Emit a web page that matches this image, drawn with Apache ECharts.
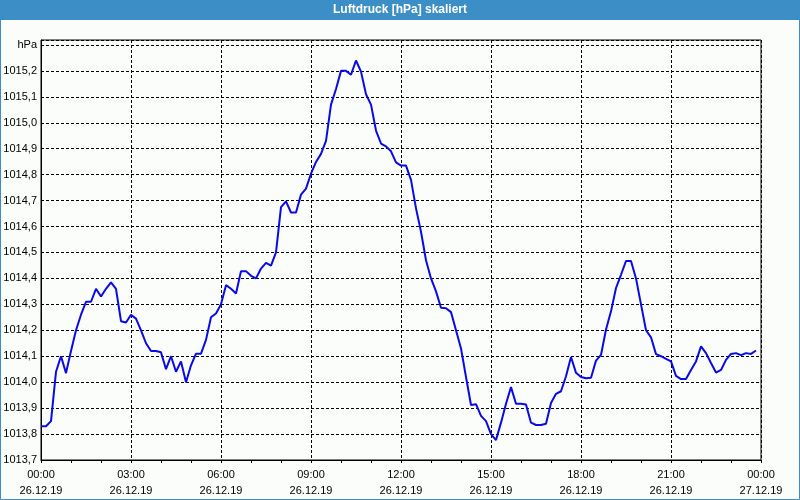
<!DOCTYPE html>
<html>
<head>
<meta charset="utf-8">
<style>
html,body{margin:0;padding:0;background:#fbfdfb;}
#main{width:800px;height:500px;}
</style>
<script src="https://cdn.jsdelivr.net/npm/echarts@6/dist/echarts.min.js"></script>
</head>
<body>
<div id="main"></div>
<script>
// Luftdruck, 10-minute values from 26.12.19 00:00 to 23:50
var stepMinutes = 10;
var startDate = '26.12.19';
var endDate = '27.12.19';
var pressure = [
  1013.83, 1013.83, 1013.85, 1014.04, 1014.10, 1014.035, 1014.12, 1014.20, 1014.26, 1014.31,
  1014.31, 1014.36, 1014.33, 1014.36, 1014.385, 1014.36, 1014.235, 1014.23, 1014.26, 1014.245,
  1014.20, 1014.15, 1014.12, 1014.12, 1014.115, 1014.05, 1014.10, 1014.04, 1014.08, 1014.00,
  1014.065, 1014.11, 1014.11, 1014.163, 1014.25, 1014.265, 1014.30, 1014.374, 1014.36, 1014.342,
  1014.428, 1014.428, 1014.41, 1014.40, 1014.438, 1014.46, 1014.449, 1014.50, 1014.675, 1014.697,
  1014.654, 1014.654, 1014.723, 1014.746, 1014.804, 1014.849, 1014.88, 1014.93, 1015.07, 1015.13,
  1015.20, 1015.20, 1015.185, 1015.24, 1015.197, 1015.11, 1015.07, 1014.97, 1014.92, 1014.909,
  1014.89, 1014.847, 1014.835, 1014.835, 1014.78, 1014.67, 1014.58, 1014.47, 1014.40, 1014.35,
  1014.287, 1014.285, 1014.27, 1014.20, 1014.13, 1014.02, 1013.912, 1013.915, 1013.87, 1013.85,
  1013.80, 1013.777, 1013.844, 1013.917, 1013.981, 1013.917, 1013.917, 1013.914, 1013.844, 1013.835,
  1013.835, 1013.84, 1013.92, 1013.955, 1013.965, 1014.023, 1014.097, 1014.036, 1014.02, 1014.015,
  1014.017, 1014.083, 1014.105, 1014.203, 1014.273, 1014.363, 1014.414, 1014.467, 1014.467, 1014.40,
  1014.30, 1014.20, 1014.173, 1014.108, 1014.10, 1014.09, 1014.08, 1014.024, 1014.012, 1014.012,
  1014.047, 1014.08, 1014.138, 1014.112, 1014.074, 1014.037, 1014.047, 1014.086, 1014.109, 1014.112,
  1014.104, 1014.112, 1014.109, 1014.122
];
var yMin = 1013.7;
var yTop = 1015.3;   // labelled "hPa"
var yMax = 1015.319;
var yStep = 0.1;
var xTickLabels = ['00:00','03:00','06:00','09:00','12:00','15:00','18:00','21:00','00:00'];

var seriesData = pressure.map(function (v, i) { return [i * stepMinutes, v]; });

var chart = echarts.init(document.getElementById('main'), null, {renderer: 'canvas'});
var font = 'Liberation Sans';
chart.setOption({
  animation: false,
  backgroundColor: '#fbfdfb',
  graphic: [
    {type: 'rect', shape: {x: 0, y: 0, width: 800, height: 20}, style: {fill: '#3c8fc6'}, z: 10},
    {type: 'rect', shape: {x: 0.5, y: 0.5, width: 799, height: 499}, style: {fill: null, stroke: '#3c8fc6', lineWidth: 1}, z: 10},
    {type: 'text', left: 'center', top: 4, z: 11,
     style: {text: 'Luftdruck [hPa] skaliert', fill: '#ffffff', font: 'bold 12px ' + font}}
  ],
  grid: {left: 41, right: 39, top: 40, bottom: 40, show: true, borderColor: '#000', borderWidth: 1, backgroundColor: 'transparent'},
  xAxis: {
    type: 'value', min: 0, max: 1440, interval: 180,
    axisLine: {show: true, lineStyle: {color: '#000', width: 1}},
    axisTick: {show: true, length: 3, inside: false, lineStyle: {color: '#000'}},
    minorTick: {show: true, splitNumber: 3, length: 3, lineStyle: {color: '#000'}},
    splitLine: {show: true, lineStyle: {color: '#000', type: [3, 2], width: 1}},
    axisLabel: {
      margin: 7, color: '#000', fontFamily: font, fontSize: 11, lineHeight: 16,
      formatter: function (v) {
        var k = Math.round(v / 180);
        return xTickLabels[k] + '\n' + (v >= 1440 ? endDate : startDate);
      }
    }
  },
  yAxis: {
    type: 'value', min: yMin, max: yMax, interval: yStep,
    axisLine: {show: true, lineStyle: {color: '#000', width: 1}},
    axisTick: {show: false},
    splitLine: {show: true, lineStyle: {color: '#000', type: [3, 2], width: 1}},
    axisLabel: {
      margin: 4, color: '#000', fontFamily: font, fontSize: 11,
      formatter: function (v) {
        if (Math.abs(v - yTop) < 1e-6) return 'hPa';
        if (v > yTop + 1e-6) return '';
        return v.toFixed(1).replace('.', ',');
      }
    }
  },
  series: [{
    type: 'line', data: seriesData, showSymbol: false, symbol: 'none',
    lineStyle: {color: '#0a0ae6', width: 2}, clip: true
  }]
});
</script>
</body>
</html>
